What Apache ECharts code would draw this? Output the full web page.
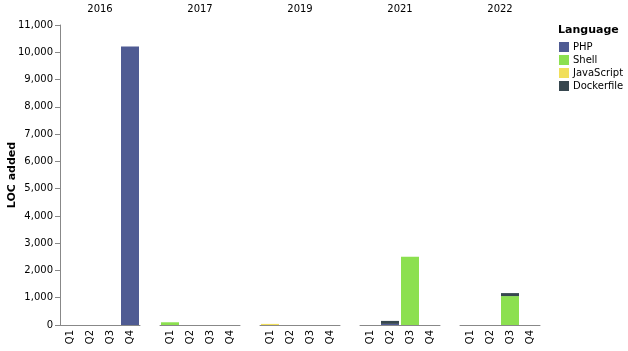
<!DOCTYPE html>
<html><head><meta charset="utf-8">
<script src="https://cdn.jsdelivr.net/npm/echarts@6/dist/echarts.min.js"></script>
<style>html,body{margin:0;padding:0;background:#fff}#c{width:628px;height:351px}</style>
</head><body><div id="c"></div>
<script>
const years = ["2016", "2017", "2019", "2021", "2022"];
const quarters = ["Q1", "Q2", "Q3", "Q4"];
const languages = ["PHP", "Shell", "JavaScript", "Dockerfile"];
// values per year (rows), per quarter (columns)
const php        = [[0,0,0,10210],[0,0,0,0],[0,0,0,0],[0,40,0,0],[0,0,0,0]];
const shell      = [[0,0,0,0],[100,0,0,0],[0,0,0,0],[0,0,2500,0],[0,0,1060,0]];
const javascript = [[0,0,0,0],[0,0,0,0],[40,0,0,0],[0,0,0,0],[0,0,0,0]];
const dockerfile = [[0,0,0,0],[0,0,0,0],[0,0,0,0],[0,110,0,0],[0,0,110,0]];

const colors = {PHP:"#4f5b93", Shell:"#8ce04f", JavaScript:"#f1df5b", Dockerfile:"#37474f"};
const dataByLang = {PHP: php, Shell: shell, JavaScript: javascript, Dockerfile: dockerfile};
const font = "DejaVu Sans";

const grids = [], xAxes = [], yAxes = [], series = [], graphics = [];
years.forEach((y, i) => {
  grids.push({left: 60 + 100*i, top: 25, width: 80, height: 300});
  xAxes.push({type: "category", gridIndex: i, data: quarters,
    axisLine: {lineStyle: {color: "#888"}},
    axisTick: {alignWithLabel: true, length: 5, lineStyle: {color: "#888"}},
    axisLabel: {rotate: 90, fontSize: 10, color: "#000", fontFamily: font, margin: 5}
  });
  yAxes.push({type: "value", gridIndex: i, min: 0, max: 11000, interval: 1000,
    show: i === 0,
    axisLine: {show: true, lineStyle: {color: "#888"}},
    axisTick: {show: true, inside: false, length: 5, lineStyle: {color: "#888"}},
    splitLine: {show: false},
    axisLabel: {fontSize: 10, color: "#000", fontFamily: font, margin: 7,
      formatter: v => v.toLocaleString("en-US")}
  });
  graphics.push({type: "text", x: 60 + 100*i + 40, y: 4,
    style: {text: y, font: "10px 'DejaVu Sans'", fill: "#000", textAlign: "center", textVerticalAlign: "top"}});
  languages.forEach(lang => {
    series.push({name: lang, type: "bar", xAxisIndex: i, yAxisIndex: i, stack: "s" + i,
      data: dataByLang[lang][i], barCategoryGap: "10%",
      itemStyle: {color: colors[lang]}, animation: false});
  });
});
graphics.push({type: "text", x: 558, y: 25,
  style: {text: "Language", font: "bold 11px 'DejaVu Sans'", fill: "#000", textVerticalAlign: "top"}});
graphics.push({type: "text", x: 12, y: 175, rotation: Math.PI / 2,
  style: {text: "LOC added", font: "bold 11px 'DejaVu Sans'", fill: "#000", textAlign: "center", textVerticalAlign: "middle"}});

const chart = echarts.init(document.getElementById("c"), null, {renderer: "canvas"});
chart.setOption({
  animation: false,
  grid: grids, xAxis: xAxes, yAxis: yAxes, series: series,
  legend: {data: languages, orient: "vertical", left: 559, top: 42, padding: 0,
    itemWidth: 10, itemHeight: 10, itemGap: 3, icon: "rect",
    textStyle: {fontSize: 10, color: "#000", fontFamily: font, padding: [0,0,0,-1]}},
  graphic: graphics
});
</script></body></html>
